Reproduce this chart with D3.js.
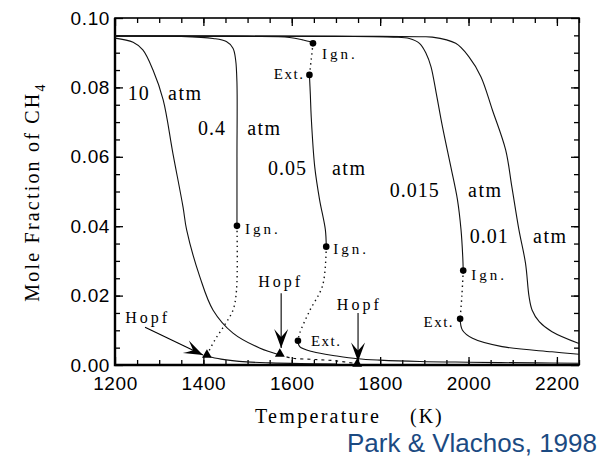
<!DOCTYPE html>
<html>
<head>
<meta charset="utf-8">
<title>CH4 mole fraction vs temperature</title>
<script src="https://cdnjs.cloudflare.com/ajax/libs/d3/7.8.5/d3.min.js"></script>
<style>
body{
margin:0;
background:#fff
}
svg{
display:block
}
.serif{
font-family:"Liberation Serif","Times New Roman",serif;
fill:#000
}
.sans{
font-family:"Liberation Sans",Arial,sans-serif
}
</style>
</head>
<body>
<svg width="607" height="457"></svg>

<script>

// tick labels
var xTicks = [1200, 1400, 1600, 1800, 2000, 2200]
var yTicks = [0, 0.02, 0.04, 0.06, 0.08, 0.10]

// curves, [temperature K, mole fraction]
var p10 = [[1200,0.0942],[1241,0.0930],[1263,0.0908],[1286,0.0850],[1309,0.0764],[1331,0.0610],[1354,0.0455],[1362,0.0390],[1392,0.0254],[1422,0.0158],[1467,0.0092],[1527,0.0049],[1573,0.0029]]
var p10Dash = [[1573,0.0029],[1600,0.0020],[1650,0.0016],[1700,0.0012],[1746,0.0004]]

var p04Upper = [[1200,0.0948],[1350,0.0947],[1422,0.0941],[1452,0.0932],[1467,0.0913],[1473,0.0879],[1476,0.0812],[1476,0.0600],[1476,0.0401]]
var p04Dot = [[1476,0.0401],[1475,0.0216],[1467,0.0158],[1448,0.0115],[1426,0.0072],[1407,0.0026]]
var p04Lower = [[1407,0.0026],[1440,0.0017],[1498,0.0009],[1550,0.0006],[1620,0.0004],[1700,0.0003]]

var p005Upper = [[1200,0.0948],[1500,0.0947],[1595,0.0944],[1625,0.0937],[1640,0.0932],[1648,0.0927]]
var p005Dot1 = [[1648,0.0927],[1644,0.0880],[1640,0.0836]]
var p005Mid = [[1640,0.0836],[1642,0.0780],[1644,0.0716],[1652,0.0571],[1663,0.0476],[1676,0.0390],[1678,0.0341]]
var p005Dot2 = [[1678,0.0341],[1670,0.0230],[1640,0.0155],[1618,0.0092],[1614,0.0070]]
var p005Lower = [[1614,0.0070],[1618,0.0053],[1648,0.0038],[1702,0.0026],[1749,0.0018],[1799,0.0014],[1890,0.0010],[2000,0.0008],[2150,0.0006],[2250,0.0005]]

var p0015Upper = [[1200,0.0948],[1700,0.0947],[1830,0.0945],[1866,0.0941],[1889,0.0927],[1904,0.0898],[1915,0.0860],[1927,0.0783],[1941,0.0687],[1960,0.0571],[1975,0.0476],[1983,0.0390],[1987,0.0310],[1988,0.0272]]
var p0015Dot = [[1988,0.0272],[1985,0.0200],[1981,0.0133]]
var p0015Lower = [[1981,0.0133],[1986,0.0101],[2009,0.0077],[2076,0.0053],[2189,0.0038],[2250,0.0031]]

var p001 = [[1200,0.0948],[1800,0.0947],[1890,0.0946],[1918,0.0945],[1971,0.0927],[2001,0.0888],[2028,0.0831],[2054,0.0735],[2084,0.0620],[2098,0.0514],[2114,0.0390],[2129,0.0293],[2137,0.0197],[2144,0.0158],[2160,0.0125],[2189,0.0096],[2250,0.0062]]

// turning points
var ignPts = [[1476,0.0401],[1648,0.0927],[1678,0.0341],[1988,0.0272]]
var extPts = [[1640,0.0836],[1614,0.0070],[1981,0.0133]]
var hopfPts = [[1408,0.0026],[1573,0.0029],[1748,0.0000]]

// pressure labels: text, T of number, T of "atm", mole fraction of baseline
var pressLabels = [["10",1229,1320,0.0764],["0.4",1388,1499,0.0663],["0.05",1546,1691,0.0548],["0.015",1822,1999,0.0484],["0.01",2003,2146,0.0352]]

// Hopf arrows: label T, label c, arrow start, arrow tip
var hopfArrows = [
	[1223,0.0121,[1268,0.0109],[1399,0.0029]],
	[1524,0.0225,[1576,0.0207],[1576,0.0049]],
	[1702,0.0158,[1750,0.0150],[1750,0.0010]]
]

var margin = {left:115, right:28, top:18, bottom:92}
var W = 607, H = 457

var x = d3.scaleLinear().domain([1200,2250]).range([margin.left, W - margin.right])
var y = d3.scaleLinear().domain([0,0.1]).range([H - margin.bottom, margin.top])

var svg = d3.select('svg')

var xMinor = d3.range(1250,2251,50)
var yMinor = d3.range(0.005,0.1,0.005)

function styleAxis(g){
	g.select('.domain').remove()
	g.selectAll('line').attr('stroke','#000').attr('stroke-width',1.3)
}

// minor ticks
svg.append('g').attr('transform','translate(0,'+y(0)+')')
	.call(d3.axisBottom(x).tickValues(xMinor).tickSize(-5).tickFormat(''))
	.call(styleAxis)
svg.append('g').attr('transform','translate(0,'+y(0.1)+')')
	.call(d3.axisTop(x).tickValues(xMinor).tickSize(-5).tickFormat(''))
	.call(styleAxis)
svg.append('g').attr('transform','translate('+x(1200)+',0)')
	.call(d3.axisLeft(y).tickValues(yMinor).tickSize(-5).tickFormat(''))
	.call(styleAxis)
svg.append('g').attr('transform','translate('+x(2250)+',0)')
	.call(d3.axisRight(y).tickValues(yMinor).tickSize(-5).tickFormat(''))
	.call(styleAxis)

// major ticks
var xAxis = svg.append('g').attr('transform','translate(0,'+y(0)+')')
	.call(d3.axisBottom(x).tickValues(xTicks).tickSize(-8).tickPadding(12).tickFormat(d3.format('d')))
	.call(styleAxis)
svg.append('g').attr('transform','translate(0,'+y(0.1)+')')
	.call(d3.axisTop(x).tickValues(xTicks).tickSize(-8).tickFormat(''))
	.call(styleAxis)
var yAxis = svg.append('g').attr('transform','translate('+x(1200)+',0)')
	.call(d3.axisLeft(y).tickValues(yTicks).tickSize(-8).tickPadding(5).tickFormat(d3.format('.2f')))
	.call(styleAxis)
svg.append('g').attr('transform','translate('+x(2250)+',0)')
	.call(d3.axisRight(y).tickValues(yTicks).tickSize(-8).tickFormat(''))
	.call(styleAxis)

svg.selectAll('.tick text')
	.attr('class','sans')
	.attr('font-size',19)
	.attr('letter-spacing',0.6)
	.attr('fill','#000')

// frame
svg.append('rect')
	.attr('x',x(1200)).attr('y',y(0.1))
	.attr('width',x(2250)-x(1200)).attr('height',y(0)-y(0.1))
	.attr('fill','none').attr('stroke','#000').attr('stroke-width',1.6)
svg.append('path')
	.attr('d','M'+x(1200)+','+y(0.1)+'V'+y(0)+'H'+x(2250))
	.attr('fill','none').attr('stroke','#000').attr('stroke-width',2.4)

// curves
var line = d3.line().x(d => x(d[0])).y(d => y(d[1])).curve(d3.curveCatmullRom.alpha(0.5))

var solid = [p10, p04Upper, p04Lower, p005Upper, p005Mid, p005Lower, p0015Upper, p0015Lower, p001]
var dotted = [p04Dot, p005Dot1, p005Dot2, p0015Dot]

svg.append('g')
	.selectAll('path')
	.data(solid)
	.join('path')
	.attr('d', line)
	.attr('fill','none')
	.attr('stroke','#111')
	.attr('stroke-width',1.1)

svg.append('g')
	.selectAll('path')
	.data(dotted)
	.join('path')
	.attr('d', line)
	.attr('fill','none')
	.attr('stroke','#111')
	.attr('stroke-width',1.4)
	.attr('stroke-dasharray','1.4,3.6')

svg.append('path')
	.datum(p10Dash)
	.attr('d', line)
	.attr('fill','none')
	.attr('stroke','#111')
	.attr('stroke-width',1.2)
	.attr('stroke-dasharray','3,4')

// turning point dots
svg.append('g')
	.selectAll('circle')
	.data(ignPts.concat(extPts))
	.join('circle')
	.attr('cx', d => x(d[0]))
	.attr('cy', d => y(d[1]))
	.attr('r',3.3)
	.attr('fill','#000')

// Hopf triangles
svg.append('g')
	.selectAll('path')
	.data(hopfPts)
	.join('path')
	.attr('transform', d => 'translate('+x(d[0])+','+(y(d[1])-1)+')')
	.attr('d', d3.symbol().type(d3.symbolTriangle).size(42))
	.attr('fill','#000')

// Hopf arrows
svg.append('defs').append('marker')
	.attr('id','barb')
	.attr('viewBox','-20 -8 22 16')
	.attr('refX',0).attr('refY',0)
	.attr('markerWidth',22).attr('markerHeight',16)
	.attr('markerUnits','userSpaceOnUse')
	.attr('orient','auto')
	.append('path')
	.attr('d','M0,0 L-19,-7 Q-13,-2 -11,0 Q-13,2 -19,7 Z')
	.attr('fill','#000')

svg.append('g')
	.selectAll('line')
	.data(hopfArrows)
	.join('line')
	.attr('x1', d => x(d[2][0])).attr('y1', d => y(d[2][1]))
	.attr('x2', d => x(d[3][0])).attr('y2', d => y(d[3][1]))
	.attr('stroke','#000')
	.attr('stroke-width',1.1)
	.attr('marker-end','url(#barb)')

svg.append('g')
	.selectAll('text')
	.data(hopfArrows)
	.join('text')
	.attr('class','serif')
	.attr('x', d => x(d[0]))
	.attr('y', d => y(d[1]))
	.attr('font-size',16)
	.attr('letter-spacing',3)
	.text('Hopf')

// Ign. / Ext. labels
var ignOff = [[8,8],[9,16],[7,7],[8,9]]
var extOff = [[-5,4],[13,5],[-6,8]]

svg.append('g')
	.selectAll('text')
	.data(ignPts)
	.join('text')
	.attr('class','serif')
	.attr('x', (d,i) => x(d[0]) + ignOff[i][0])
	.attr('y', (d,i) => y(d[1]) + ignOff[i][1])
	.attr('font-size',15)
	.attr('letter-spacing',3)
	.text('Ign.')

svg.append('g')
	.selectAll('text')
	.data(extPts)
	.join('text')
	.attr('class','serif')
	.attr('x', (d,i) => x(d[0]) + extOff[i][0])
	.attr('y', (d,i) => y(d[1]) + extOff[i][1])
	.attr('text-anchor', (d,i) => extOff[i][0] < 0 ? 'end' : 'start')
	.attr('font-size',15)
	.attr('letter-spacing',1.5)
	.text('Ext.')

// pressure labels
var pl = svg.append('g')
pl.selectAll('text.num')
	.data(pressLabels)
	.join('text')
	.attr('class','serif num')
	.attr('x', d => x(d[1]))
	.attr('y', d => y(d[3]))
	.attr('font-size',20)
	.attr('letter-spacing',1)
	.text(d => d[0])
pl.selectAll('text.atm')
	.data(pressLabels)
	.join('text')
	.attr('class','serif atm')
	.attr('x', d => x(d[2]))
	.attr('y', d => y(d[3]))
	.attr('font-size',20)
	.attr('letter-spacing',1.5)
	.text('atm')

// axis titles
svg.append('text')
	.attr('class','serif')
	.attr('x',255).attr('y',423)
	.attr('font-size',20)
	.attr('letter-spacing',2.3)
	.text('Temperature')
svg.append('text')
	.attr('class','serif')
	.attr('x',410).attr('y',423)
	.attr('font-size',20)
	.attr('letter-spacing',2)
	.text('(K)')

var yt = svg.append('text')
	.attr('class','serif')
	.attr('transform','translate(39,192) rotate(-90)')
	.attr('text-anchor','middle')
	.attr('font-size',20)
	.attr('letter-spacing',2.2)
yt.append('tspan').text('Mole  Fraction  of  CH')
yt.append('tspan').attr('font-size',14).attr('dy',6).text('4')

// credit
svg.append('text')
	.attr('class','sans')
	.attr('x',597).attr('y',452)
	.attr('text-anchor','end')
	.attr('font-size',26)
	.attr('fill','#1b4a82')
	.text('Park & Vlachos, 1998')

</script>
</body>
</html>
